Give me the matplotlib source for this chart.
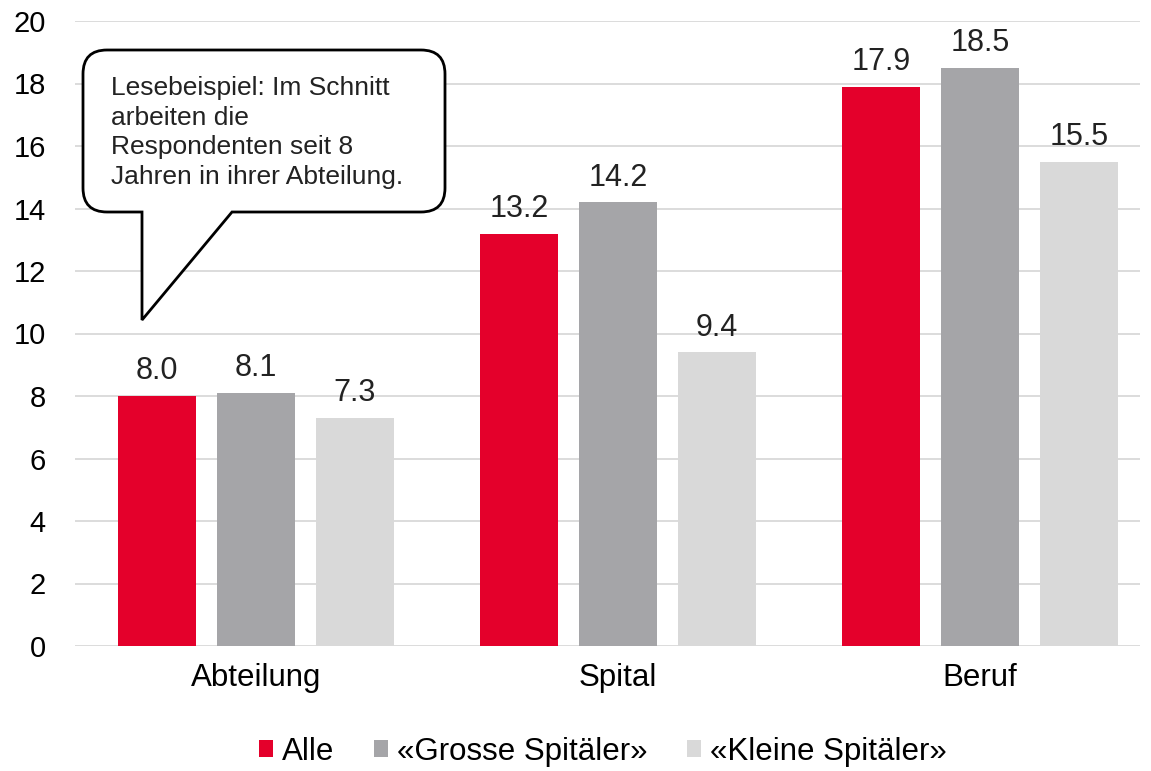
import matplotlib
matplotlib.use("Agg")
import matplotlib.pyplot as plt
import numpy as np
from matplotlib.path import Path
from matplotlib.patches import PathPatch
from matplotlib.transforms import Affine2D

plt.rcParams['font.family'] = ['Liberation Sans', 'DejaVu Sans']

# Daten
categories = ['Abteilung', 'Spital', 'Beruf']
series_names = ['Alle', '«Grosse Spitäler»', '«Kleine Spitäler»']
alle = [8.0, 13.2, 17.9]
gross = [8.1, 14.2, 18.5]
klein = [7.3, 9.4, 15.5]
colors = ['#E4002B', '#A5A5A8', '#D9D9D9']
yticks = [0, 2, 4, 6, 8, 10, 12, 14, 16, 18, 20]
callout_text = "Lesebeispiel: Im Schnitt\narbeiten die\nRespondenten seit 8\nJahren in ihrer Abteilung."

W, H = 1151, 771
fig = plt.figure(figsize=(W / 100, H / 100), dpi=100)
ax = fig.add_axes([75 / W, 125 / H, 1065 / W, 625 / H])

x = np.arange(len(categories))
width = 0.215
pitch = 0.273
for i, (vals, name) in enumerate(zip([alle, gross, klein], series_names)):
    bars = ax.bar(x + (i - 1) * pitch, vals, width, color=colors[i], label=name, zorder=2)
    ax.bar_label(bars, labels=[f'{v:.1f}' for v in vals], padding=7, fontsize=22, color='#222222')

ax.set_xlim(-0.5, 2.442)
ax.set_ylim(0, 20)
ax.set_yticks(yticks)
ax.set_xticks(x)
ax.set_xticklabels(categories, fontsize=22.5)
ax.tick_params(axis='y', labelsize=21, length=0, pad=21)
ax.tick_params(axis='x', length=0, pad=12)
ax.grid(axis='y', color='#D9D9D9', linewidth=1.3, zorder=0)
ax.set_axisbelow(True)
for s in ax.spines.values():
    s.set_visible(False)

# Sprechblase (in Bildpixeln)
px = Affine2D().scale(1 / W, -1 / H).translate(0, 1) + fig.transFigure
l, r, t, b, rad = 83, 445, 50, 212, 24
verts = [(l + rad, t), (r - rad, t), (r, t), (r, t + rad), (r, b - rad), (r, b), (r - rad, b),
         (232, b), (142, 320), (142, b), (l + rad, b), (l, b), (l, b - rad),
         (l, t + rad), (l, t), (l + rad, t), (l + rad, t)]
codes = [Path.MOVETO, Path.LINETO, Path.CURVE3, Path.CURVE3, Path.LINETO, Path.CURVE3, Path.CURVE3,
         Path.LINETO, Path.LINETO, Path.LINETO, Path.LINETO, Path.CURVE3, Path.CURVE3,
         Path.LINETO, Path.CURVE3, Path.CURVE3, Path.CLOSEPOLY]
bubble = PathPatch(Path(verts, codes), transform=px, facecolor='white', edgecolor='black',
                   linewidth=2, zorder=5)
fig.patches.append(bubble)
fig.text(111 / W, 1 - 76 / H, callout_text, fontsize=19, va='top', ha='left',
         linespacing=1.3, color='#222222', zorder=6)

fig.legend(loc='center', bbox_to_anchor=(603 / W, 1 - 752 / H), ncol=3, frameon=False,
           fontsize=22.5, handlelength=0.45, handleheight=0.45, handletextpad=0.3,
           columnspacing=1.25)

fig.savefig('out.png', dpi=100)
